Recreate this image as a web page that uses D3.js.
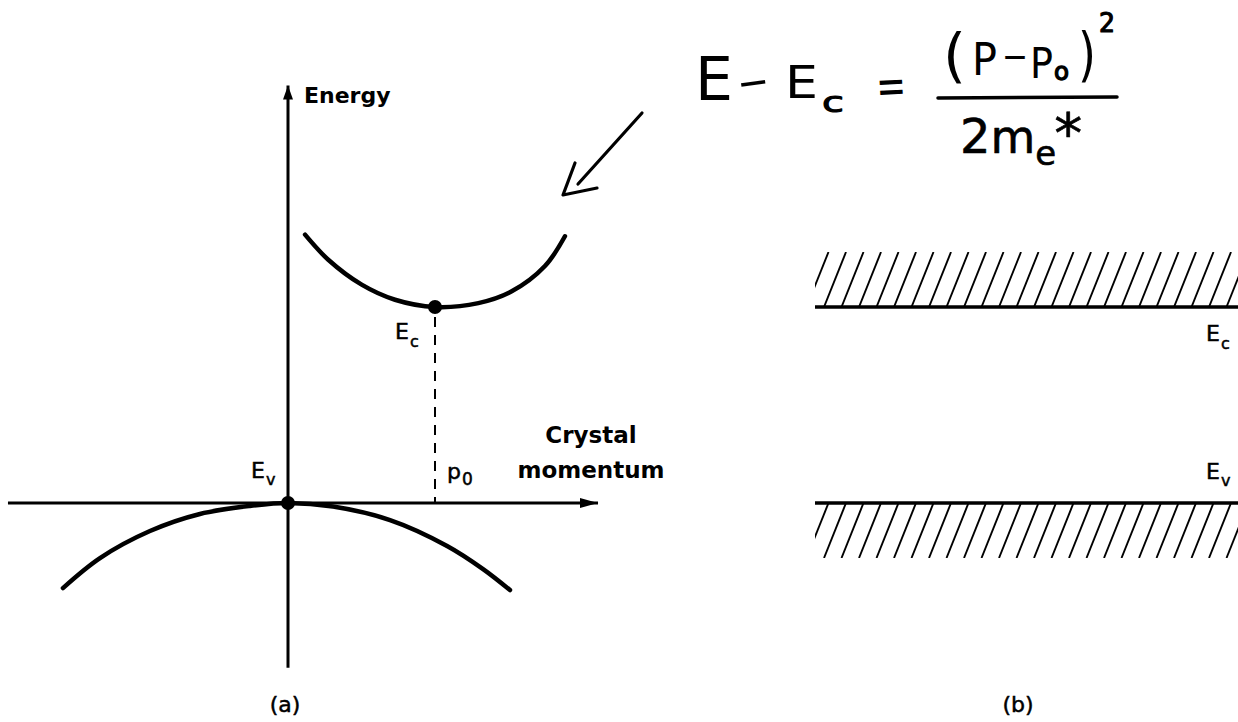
<!DOCTYPE html>
<html>
<head>
<meta charset="utf-8">
<script src="https://cdn.jsdelivr.net/npm/d3@7"></script>
<style>
  html, body { margin: 0; padding: 0; background: #fff; }
  svg { display: block; }
</style>
</head>
<body>
<svg id="chart" width="1238" height="722"></svg>
<script>
// E(p) sketch near the band edges (a) and the flat-band picture (b).
// Energy is measured in units of the gap (Ev = 0, Ec = 1),
// crystal momentum in units of p0 (the conduction-band minimum).

const p0 = 1;
const bandEdgeEnergies = [1, 0];            // Ec, Ev
const bandEdgeNames = ["c", "v"];
const conductionBand = [
  [0.116, 1.369], [0.274, 1.241], [0.501, 1.114], [0.728, 1.037], [1.000, 1.000],
  [1.295, 1.020], [1.522, 1.080], [1.748, 1.209], [1.884, 1.361]
];
const valenceBand = [
  [-1.531, -0.434], [-1.279, -0.281], [-0.939, -0.143], [-0.599, -0.056], [-0.259, -0.015],
  [0, 0], [0.306, -0.018], [0.694, -0.087], [1.082, -0.219], [1.327, -0.337], [1.510, -0.444]
];
const momentumExtent = [-1.905, 2.109];
const energyExtent = [-0.84, 2.13];
const energyTitle = "Energy";
const momentumTitle = ["Crystal", "momentum"];
const panelTags = ["(a)", "(b)"];

const svg = d3.select("#chart");
const ink = "#000";
const labelFont = "'DejaVu Sans', sans-serif";

// ---- scales (shared energy scale for both panels) ----
const x = d3.scaleLinear().domain([0, p0]).range([288, 435]);
const y = d3.scaleLinear().domain([0, 1]).range([503, 307]);

// ---- arrowheads ----
const defs = svg.append("defs");
defs.append("marker")
  .attr("id", "arrowY").attr("markerUnits", "userSpaceOnUse")
  .attr("viewBox", "0 0 14 10").attr("refX", 14).attr("refY", 5)
  .attr("markerWidth", 14).attr("markerHeight", 10).attr("orient", "auto")
  .append("path").attr("d", "M0,0 L14,5 L0,10 Z").attr("fill", ink);
defs.append("marker")
  .attr("id", "arrowX").attr("markerUnits", "userSpaceOnUse")
  .attr("viewBox", "0 0 18 10").attr("refX", 18).attr("refY", 5)
  .attr("markerWidth", 18).attr("markerHeight", 10).attr("orient", "auto")
  .append("path").attr("d", "M0,0 L18,5 L0,10 Z").attr("fill", ink);

// ================= panel (a) =================
const a = svg.append("g");

// momentum axis
a.append("line")
  .attr("x1", x(momentumExtent[0])).attr("x2", x(momentumExtent[1]))
  .attr("y1", y(0)).attr("y2", y(0))
  .attr("stroke", ink).attr("stroke-width", 3)
  .attr("marker-end", "url(#arrowX)");

// energy axis
a.append("line")
  .attr("x1", x(0)).attr("x2", x(0))
  .attr("y1", y(energyExtent[0])).attr("y2", y(energyExtent[1]))
  .attr("stroke", ink).attr("stroke-width", 3)
  .attr("marker-end", "url(#arrowY)");

// dashed drop from the conduction-band minimum to p0
a.append("line")
  .attr("x1", x(p0)).attr("x2", x(p0))
  .attr("y1", y(bandEdgeEnergies[0]) + 10).attr("y2", y(0))
  .attr("stroke", ink).attr("stroke-width", 2)
  .attr("stroke-dasharray", "10,8");

const bandLine = d3.line()
  .x(d => x(d[0])).y(d => y(d[1]))
  .curve(d3.curveCatmullRom.alpha(0.5));

a.selectAll("path.band")
  .data([conductionBand, valenceBand])
  .join("path")
  .attr("class", "band")
  .attr("d", bandLine)
  .attr("fill", "none")
  .attr("stroke", ink)
  .attr("stroke-width", 4.5)
  .attr("stroke-linecap", "round");

// band-edge points: Ec at p0, Ev at p = 0
a.selectAll("circle.edge")
  .data([[p0, bandEdgeEnergies[0]], [0, bandEdgeEnergies[1]]])
  .join("circle")
  .attr("class", "edge")
  .attr("cx", d => x(d[0])).attr("cy", d => y(d[1]))
  .attr("r", 7).attr("fill", ink);

// subscripted symbol helper
function symbol(g, base, sub, px, py, size, subSize, subDx, subDy) {
  const t = g.append("text")
    .attr("x", px).attr("y", py)
    .attr("font-family", labelFont)
    .attr("font-size", size)
    .attr("fill", ink)
    .attr("stroke", ink).attr("stroke-width", 0.5);
  t.append("tspan").text(base);
  t.append("tspan").attr("dx", subDx).attr("dy", subDy)
    .attr("font-size", subSize).text(sub);
  return t;
}

symbol(a, "E", bandEdgeNames[0], x(p0) - 40, y(bandEdgeEnergies[0]) + 32, 22, 16, 1, 8);
symbol(a, "E", bandEdgeNames[1], x(0) - 37, y(bandEdgeEnergies[1]) - 25, 22, 16, 1, 7);
symbol(a, "p", "0", x(p0) + 12, y(0) - 24, 22, 17, 1, 6);

// axis titles
a.append("text")
  .attr("x", x(0) + 16).attr("y", y(energyExtent[1]) + 17)
  .attr("font-family", labelFont).attr("font-weight", "bold")
  .attr("font-size", 22).attr("fill", ink)
  .text(energyTitle);

a.selectAll("text.mtitle")
  .data(momentumTitle)
  .join("text")
  .attr("class", "mtitle")
  .attr("x", 591)
  .attr("y", (d, i) => y(0) - 60 + i * 35)
  .attr("text-anchor", "middle")
  .attr("font-family", labelFont).attr("font-weight", "bold")
  .attr("font-size", 23).attr("fill", ink)
  .text(d => d);

// ================= panel (b) =================
const b = svg.append("g");
const bandX = [815, 1238];
const hatchDepth = 55;
const hatchStep = 17.5;
const hatchLean = 22;

bandEdgeEnergies.forEach((E, i) => {
  const edgeY = y(E);
  const top = i === 0 ? edgeY - hatchDepth : edgeY;
  const bottom = i === 0 ? edgeY : edgeY + hatchDepth;
  const clipId = "hatchClip" + i;
  defs.append("clipPath").attr("id", clipId)
    .append("rect")
    .attr("x", bandX[0]).attr("y", top)
    .attr("width", bandX[1] - bandX[0]).attr("height", bottom - top);

  b.append("g").attr("clip-path", `url(#${clipId})`)
    .selectAll("line")
    .data(d3.range(bandX[0] - hatchLean - 4, bandX[1] + hatchStep, hatchStep))
    .join("line")
    .attr("x1", d => d).attr("y1", bottom)
    .attr("x2", d => d + hatchLean).attr("y2", top)
    .attr("stroke", ink).attr("stroke-width", 1.9);

  b.append("line")
    .attr("x1", bandX[0]).attr("x2", bandX[1])
    .attr("y1", edgeY).attr("y2", edgeY)
    .attr("stroke", ink).attr("stroke-width", 3.5);
});

symbol(b, "E", bandEdgeNames[0], 1206, y(bandEdgeEnergies[0]) + 34, 22, 16, 1, 8);
symbol(b, "E", bandEdgeNames[1], 1206, y(bandEdgeEnergies[1]) - 24, 22, 16, 1, 7);

// panel tags
svg.selectAll("text.tag")
  .data(panelTags)
  .join("text")
  .attr("class", "tag")
  .attr("x", (d, i) => [285, 1018][i])
  .attr("y", 712)
  .attr("text-anchor", "middle")
  .attr("font-family", labelFont)
  .attr("font-size", 22).attr("fill", ink)
  .attr("stroke", ink).attr("stroke-width", 0.5)
  .text(d => d);

// ================= hand-written dispersion relation =================
const eq = svg.append("g")
  .attr("font-family", labelFont)
  .attr("fill", ink)
  .attr("stroke", ink)
  .attr("stroke-linejoin", "round");

// pen weight: thicken the smaller glyphs a little so strokes look even
const pen = s => Math.max(0, 3.0 - 0.07 * s);

const glyphs = [
  { t: "E", x: 695, y: 100, s: 60, w: 38 },
  { t: "\u2013", x: 740, y: 97, s: 50, w: 30, r: -8 },
  { t: "E", x: 785, y: 98, s: 45, w: 33 },
  { t: "c", x: 822, y: 112, s: 28, w: 22 },
  { t: "=", x: 877, y: 103, s: 50, w: 30, r: -3 },
  { t: "(", x: 943, y: 76, s: 58, w: 23 },
  { t: "P", x: 972, y: 75, s: 44, w: 25 },
  { t: "\u2013", x: 1003, y: 69, s: 40, w: 24 },
  { t: "P", x: 1030, y: 78, s: 42, w: 23 },
  { t: "o", x: 1054, y: 80, s: 24, w: 15 },
  { t: ")", x: 1078, y: 75, s: 58, w: 18 },
  { t: "2", x: 1099, y: 32, s: 26, w: 16 }
];

eq.selectAll("text.g")
  .data(glyphs)
  .join("text")
  .attr("class", "g")
  .attr("x", d => d.x).attr("y", d => d.y)
  .attr("font-size", d => d.s)
  .attr("stroke-width", d => pen(d.s))
  .attr("textLength", d => d.w)
  .attr("lengthAdjust", "spacingAndGlyphs")
  .attr("transform", d => d.r ? `rotate(${d.r},${d.x + d.w / 2},${d.y})` : null)
  .text(d => d.t);

// denominator 2m_e*
const den = eq.append("text")
  .attr("x", 960).attr("y", 153)
  .attr("font-size", 48).attr("stroke-width", 0.6);
den.append("tspan").text("2");
den.append("tspan").attr("font-size", 46).text("m");
den.append("tspan").attr("font-size", 34).attr("dy", 12).text("e");
den.append("tspan").attr("font-size", 56).attr("dx", -2).attr("dy", -12).text("*");

// fraction bar
eq.append("line")
  .attr("x1", 938).attr("x2", 1117).attr("y1", 98).attr("y2", 97)
  .attr("stroke-width", 3.5).attr("stroke-linecap", "round");

// hand-drawn pointer towards the conduction band
const pointer = svg.append("g")
  .attr("fill", "none").attr("stroke", ink)
  .attr("stroke-width", 3.2)
  .attr("stroke-linecap", "round").attr("stroke-linejoin", "round");
pointer.append("path").attr("d", "M642,113 L578,184");
pointer.append("path").attr("d", "M575,163 L563,195 L597,188");
</script>
</body>
</html>
